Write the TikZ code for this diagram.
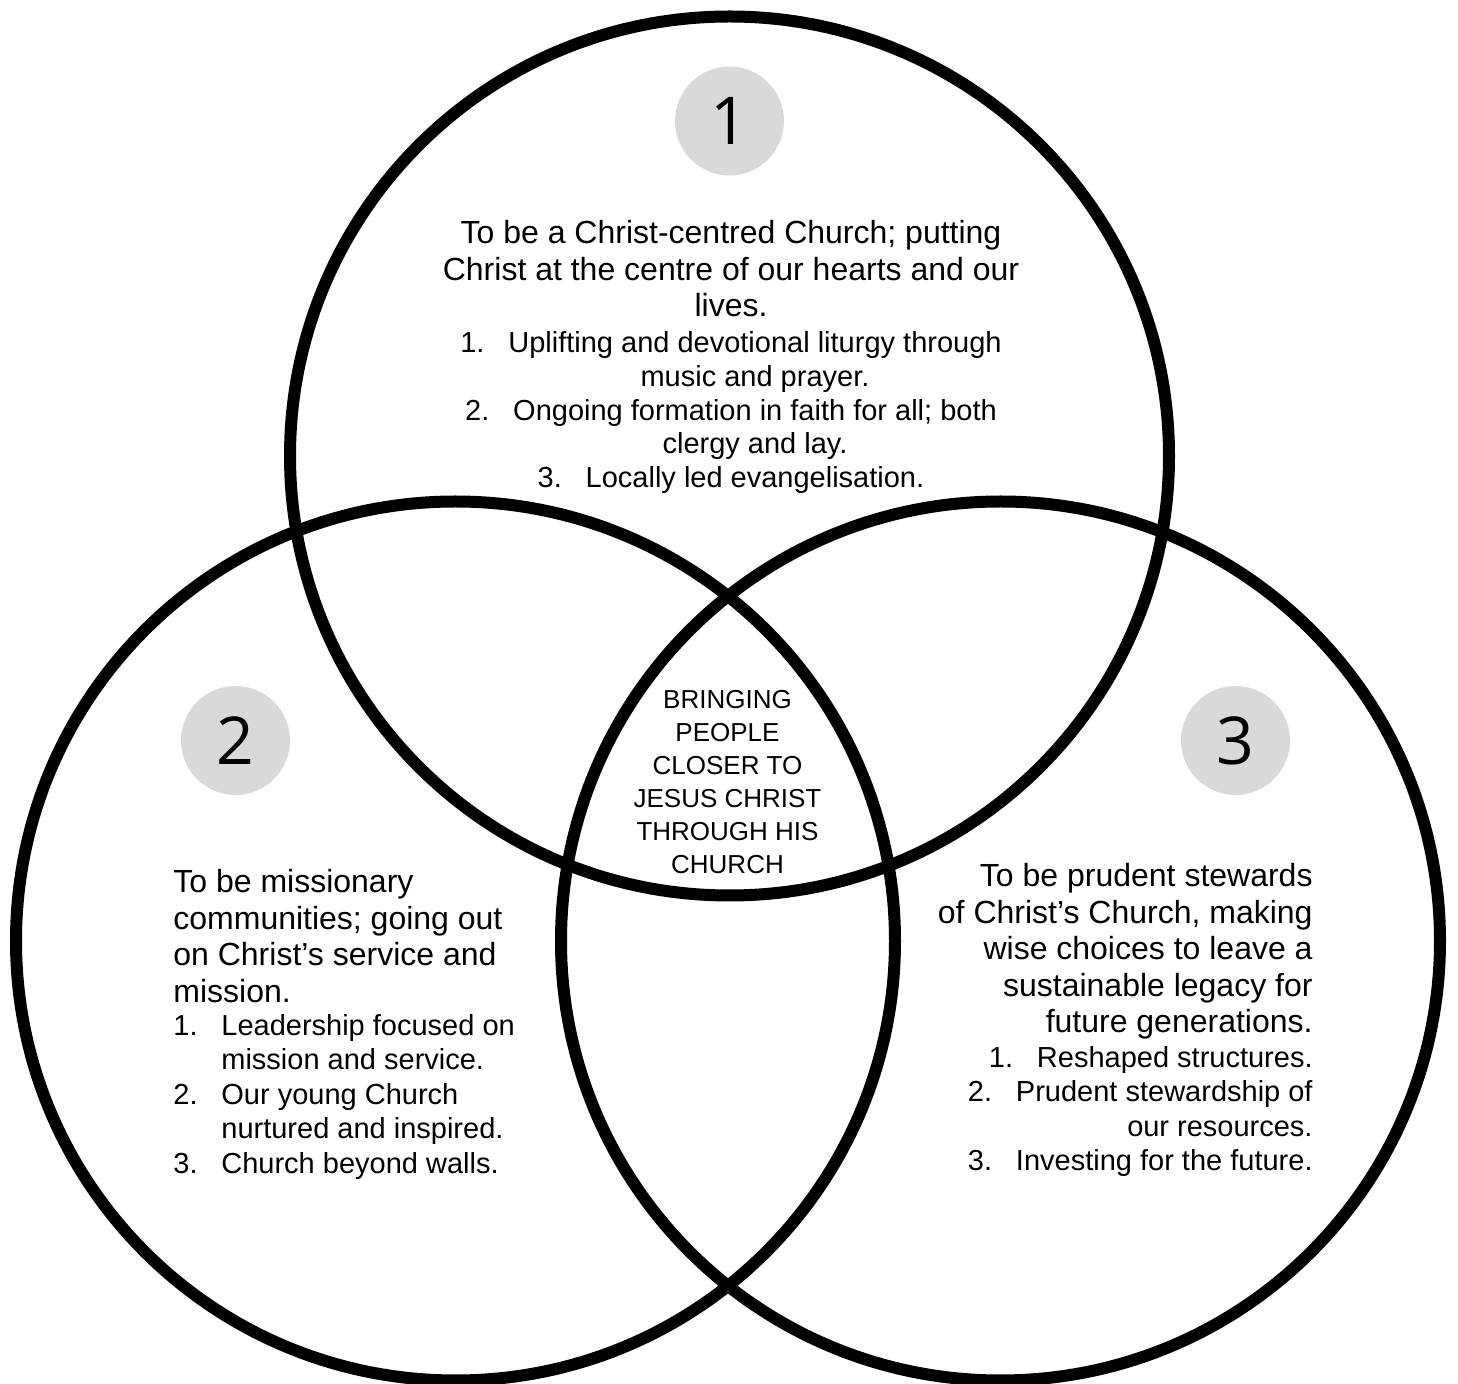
\documentclass[tikz,border=0pt]{standalone}
\usepackage{fontspec}
\setmainfont{Liberation Sans}
\newfontfamily\numfont{Open Sans}
\definecolor{badgegray}{HTML}{D9D9D9}
\begin{document}
\begin{tikzpicture}[x = 0.5pt, y = -0.5pt,
	ring/.style = {circle, draw, line width = 6pt, minimum size = 439.5pt, inner sep = 0pt},
	badge/.style = {circle, fill = badgegray, minimum size = 54.5pt, inner sep = 0pt, font = \numfont\fontsize{33}{33}\selectfont},
	lead/.style = {inner sep = 0pt, font = \fontsize{16}{18.3}\selectfont},
	items/.style = {inner sep = 0pt, font = \fontsize{14.5}{17.2}\selectfont},
	core/.style = {inner sep = 0pt, align = center, font = \fontsize{13}{16.5}\selectfont}]
	\useasboundingbox (0,0) rectangle (1458,1384);
	%circles
	\node[ring] (top) at (729.5, 456) {};
	\node[ring] (left) at (455.5, 941) {};
	\node[ring] (right) at (1000.5, 941) {};
	%numbers
	\node[badge] (one) at (729.5, 121) {1};
	\node[badge] (two) at (235.5, 740.5) {2};
	\node[badge] (three) at (1235.5, 740.5) {3};
	
	%top circle
	\node[lead, align = center, anchor = north] (toplead) at (731, 220)
	{To be a Christ-centred Church; putting\\Christ at the centre of our hearts and our\\lives.};
	\node[items, font = \fontsize{14.5}{16.9}\selectfont, align = center, anchor = north] (toplist) at (731, 331)
	{\makebox[24pt][l]{1.}Uplifting and devotional liturgy through\\\hspace*{24pt}music and prayer.\\
	 \makebox[24pt][l]{2.}Ongoing formation in faith for all; both\\\hspace*{24pt}clergy and lay.\\
	 \makebox[24pt][l]{3.}Locally led evangelisation.};
	
	%left circle
	\node[lead, align = left, anchor = north west] (leftlead) at (173, 869)
	{To be missionary\\communities; going out\\on Christ’s service and\\mission.};
	\node[items, align = left, anchor = north west] (leftlist) at (173, 1014)
	{\makebox[24pt][l]{1.}Leadership focused on\\\hspace*{24pt}mission and service.\\
	 \makebox[24pt][l]{2.}Our young Church\\\hspace*{24pt}nurtured and inspired.\\
	 \makebox[24pt][l]{3.}Church beyond walls.};
	
	%right circle
	\node[lead, align = right, anchor = north east] (rightlead) at (1313, 863)
	{To be prudent stewards\\of Christ’s Church, making\\wise choices to leave a\\sustainable legacy for\\future generations.};
	\node[items, align = right, anchor = north east] (rightlist) at (1313, 1046)
	{\makebox[24pt][l]{1.}Reshaped structures.\\
	 \makebox[24pt][l]{2.}Prudent stewardship of\\our resources.\\
	 \makebox[24pt][l]{3.}Investing for the future.};
	
	%middle
	\node[core, anchor = north] (middle) at (727.5, 690)
	{BRINGING\\PEOPLE\\CLOSER TO\\JESUS CHRIST\\THROUGH HIS\\CHURCH};
\end{tikzpicture}
\end{document}
